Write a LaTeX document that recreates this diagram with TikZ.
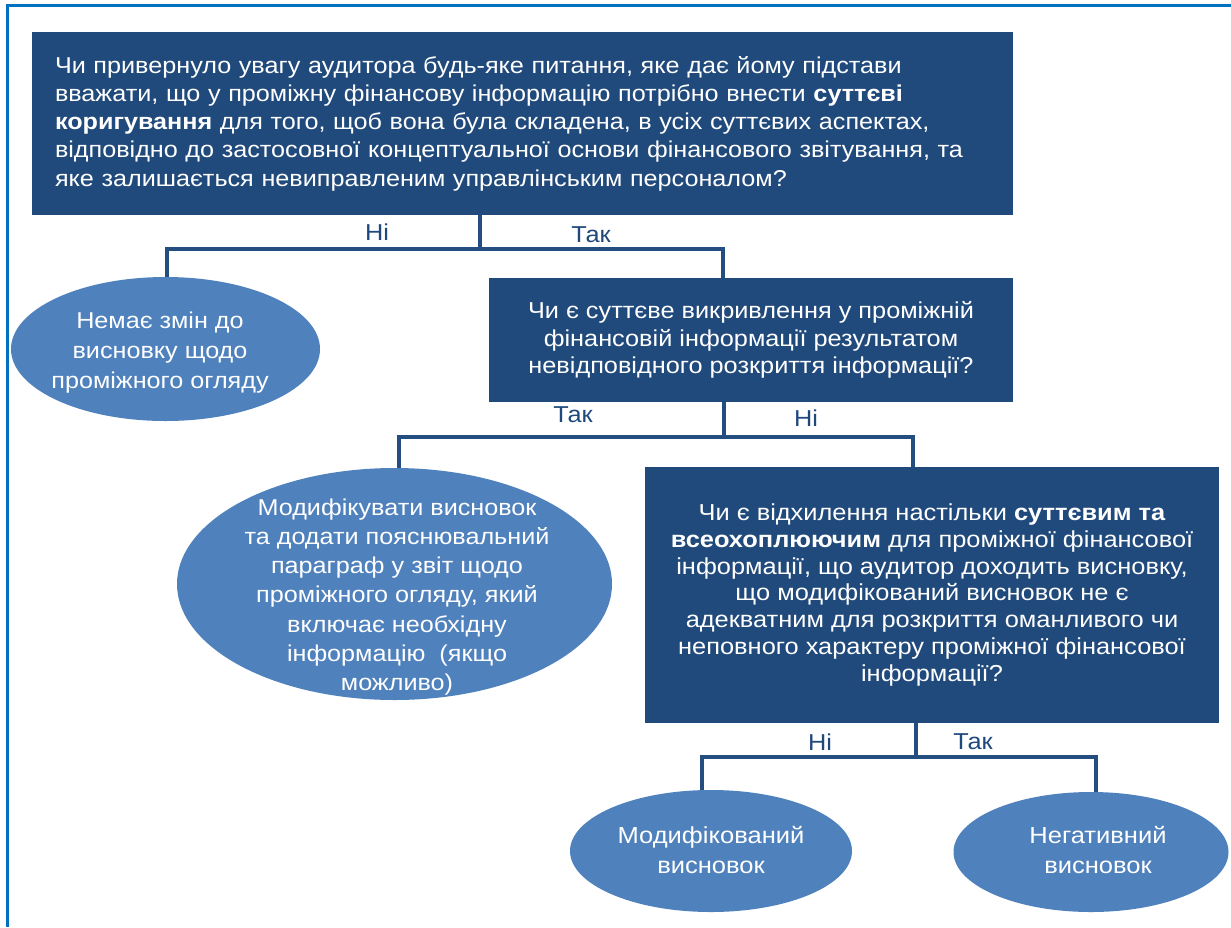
\documentclass[tikz,border=0pt]{standalone}
\usepackage{fontspec}
\setmainfont{Liberation Sans}[FakeStretch=1.1]
\usetikzlibrary{shapes.geometric}
\definecolor{boxblue}{HTML}{214A7C}
\definecolor{ellblue}{HTML}{4F81BD}
\definecolor{linkblue}{HTML}{254E80}
\definecolor{framblue}{HTML}{0070C0}
\definecolor{lblblue}{HTML}{1F497D}
\tikzset{
  qbox/.style={rectangle, fill=boxblue, text=white, inner sep=0pt, align=center},
  ellbox/.style={ellipse, fill=ellblue, inner sep=0pt},
  etext/.style={text=white, align=center, inner sep=0pt},
  conn/.style={draw=linkblue, line width=3.3pt},
  lbl/.style={text=lblblue, inner sep=0pt, font=\fontsize{23}{26}\selectfont},
  frame/.style={draw=framblue, line width=2.8pt}
}
\begin{document}
\begin{tikzpicture}[x=1pt,y=-1pt]
\useasboundingbox (0,0) rectangle (1231,927);
% frame
\coordinate (f0) at (7.2,5.3);
\coordinate (f1) at (1231,5.3);
\coordinate (f2) at (7.2,927);
\draw[frame] (f1) -- (f0) -- (f2);

% top question
\node[qbox, minimum width=981, minimum height=183, text width=935, align=left,
  font=\fontsize{22.9}{28.2}\selectfont] (t) at (522.5,123.5)
  {Чи привернуло увагу аудитора будь-яке питання, яке дає йому підстави\\
   вважати, що у проміжну фінансову інформацію потрібно внести \textbf{суттєві}\\
   \textbf{коригування} для того, щоб вона була складена, в усіх суттєвих аспектах,\\
   відповідно до застосовної концептуальної основи фінансового звітування, та\\
   яке залишається невиправленим управлінським персоналом?};

% ellipse 1
\node[ellbox, minimum width=309, minimum height=144] (e1) at (165.5,349) {};
\node[etext, font=\fontsize{22.9}{30}\selectfont] (e1t) at (160,353)
  {Немає змін до\\висновку щодо\\проміжного огляду};

% box 2
\node[qbox, minimum width=524, minimum height=124,
  font=\fontsize{23}{27.5}\selectfont] (b2) at (751,340)
  {Чи є суттєве викривлення у проміжній\\фінансовій інформації результатом\\невідповідного розкриття інформації?};

% ellipse 2
\node[ellbox, minimum width=435, minimum height=232] (e2) at (394.5,584) {};
\node[etext, font=\fontsize{22.9}{29.2}\selectfont] (e2t) at (397,597)
  {Модифікувати висновок\\та додати пояснювальний\\параграф у звіт щодо\\проміжного огляду, який\\включає необхідну\\інформацію~~(якщо\\можливо)};

% box 3
\node[qbox, minimum width=574, minimum height=256,
  font=\fontsize{23.1}{26.8}\selectfont] (b3) at (932,595)
  {Чи є відхилення настільки \textbf{суттєвим та}\\\textbf{всеохоплюючим} для проміжної фінансової\\інформації, що аудитор доходить висновку,\\що модифікований висновок не є\\адекватним для розкриття оманливого чи\\неповного характеру проміжної фінансової\\інформації?};

% ellipses 3,4
\node[ellbox, minimum width=282, minimum height=122] (e3) at (711,851) {};
\node[etext, font=\fontsize{23.2}{30}\selectfont] (e3t) at (711,850)
  {Модифікований\\висновок};
\node[ellbox, minimum width=275, minimum height=120] (e4) at (1091,852) {};
\node[etext, font=\fontsize{23.2}{30}\selectfont] (e4t) at (1098,850)
  {Негативний\\висновок};

% junctions
\coordinate (j1) at (480,249);
\coordinate (j1l) at (167,249);
\coordinate (j1r) at (723,249);
\coordinate (j2) at (724,437);
\coordinate (j2l) at (399,437);
\coordinate (j2r) at (913,437);
\coordinate (j3) at (916,757);
\coordinate (j3l) at (702,757);
\coordinate (j3r) at (1096,757);

\draw[conn] (t.south -| j1) -- (j1);
\draw[conn] (e1.north -| j1l) -- (j1l) -- (j1r) -- (b2.north -| j1r);
\draw[conn] (b2.south -| j2) -- (j2);
\draw[conn] (e2.north -| j2l) -- (j2l) -- (j2r) -- (b3.north -| j2r);
\draw[conn] (b3.south -| j3) -- (j3);
\draw[conn] (e3.north -| j3l) -- (j3l) -- (j3r) -- (e4.north -| j3r);

% labels
\node[lbl] (l1) at (377,232) {Ні};
\node[lbl] (l2) at (591,235) {Так};
\node[lbl] (l3) at (573,415) {Так};
\node[lbl] (l4) at (806,418) {Ні};
\node[lbl] (l5) at (820,742) {Ні};
\node[lbl] (l6) at (973,742) {Так};
\end{tikzpicture}
\end{document}
